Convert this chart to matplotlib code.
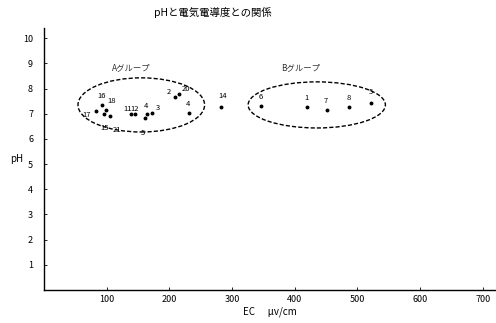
import matplotlib
matplotlib.use('Agg')
import matplotlib.pyplot as plt
from matplotlib.patches import Ellipse

plt.rcParams['font.family'] = ['Noto Sans CJK JP', 'DejaVu Sans']

# sample number, EC (uv/cm), pH
labels_a = ['17', '16', '18', '15', '21', '11', '12', '4', '3', '5', '2', '20', '4', '14']
ec_a = [83, 92, 99, 96, 105, 139, 145, 164, 172, 161, 209, 215, 231, 282]
ph_a = [7.1, 7.34, 7.14, 6.98, 6.9, 6.98, 6.98, 6.98, 7.02, 6.83, 7.66, 7.78, 7.02, 7.26]

labels_b = ['6', '1', '7', '8', '5']
ec_b = [346, 419, 451, 487, 522]
ph_b = [7.3, 7.26, 7.14, 7.26, 7.42]

# label offsets in points (dx, dy)
offs_a = [(-10, 0), (-3, 4), (1, 4), (-3, -7), (2, -7), (-6, 1), (-3, 1), (-2, 3), (3, 1), (-3, -8),
          (-6, 1), (2, 1), (-2, 4), (-2, 5)]
offs_b = [(-2, 4), (-2, 4), (-2, 4), (-2, 4), (-2, 5)]

fig = plt.figure(figsize=(4.96, 3.23), dpi=100)
ax = fig.add_axes([0.089, 0.102, 0.911, 0.811])

ax.plot(ec_a, ph_a, 'o', color='black', markersize=1.8)
ax.plot(ec_b, ph_b, 'o', color='black', markersize=1.8)
for lab, x, y, (dx, dy) in zip(labels_a + labels_b, ec_a + ec_b, ph_a + ph_b, offs_a + offs_b):
    ax.annotate(lab, (x, y), xytext=(dx, dy), textcoords='offset points',
                fontsize=5.5, style='italic', ha='left', va='bottom' if dy > 0 else 'top')

ax.add_patch(Ellipse((155, 7.35), 202, 2.15, fill=False, linestyle=(0, (3, 1.5)),
                     linewidth=1.0, color='black'))
ax.add_patch(Ellipse((435, 7.35), 219, 1.83, fill=False, linestyle=(0, (3, 1.5)),
                     linewidth=1.0, color='black'))
ax.text(139, 8.85, 'Aグループ', fontsize=6, ha='center', va='center', color='#333333')
ax.text(409, 8.85, 'Bグループ', fontsize=6, ha='center', va='center', color='#333333')

ax.set_xlim(0, 721)
ax.set_ylim(0, 10.4)
ax.set_xticks([100, 200, 300, 400, 500, 600, 700])
ax.set_yticks(range(1, 11))
ax.tick_params(direction='in', length=2.5, width=0.6, labelsize=6.5)
for t in ax.get_xticklabels() + ax.get_yticklabels():
    t.set_style('italic')
ax.tick_params(axis='y', pad=8)
for s in ['top', 'right']:
    ax.spines[s].set_visible(False)
for s in ['left', 'bottom']:
    ax.spines[s].set_linewidth(1.0)

ax.set_xlabel('EC      μv/cm', fontsize=7, style='italic', labelpad=2)
ax.set_ylabel('pH', fontsize=7, rotation=0, va='center', ha='center')
ax.yaxis.set_label_coords(-0.06, 0.5)

fig.text(0.43, 0.962, 'pHと電気電導度との関係', fontsize=7.5, ha='center', va='center')

fig.savefig('out.png', dpi=100)
